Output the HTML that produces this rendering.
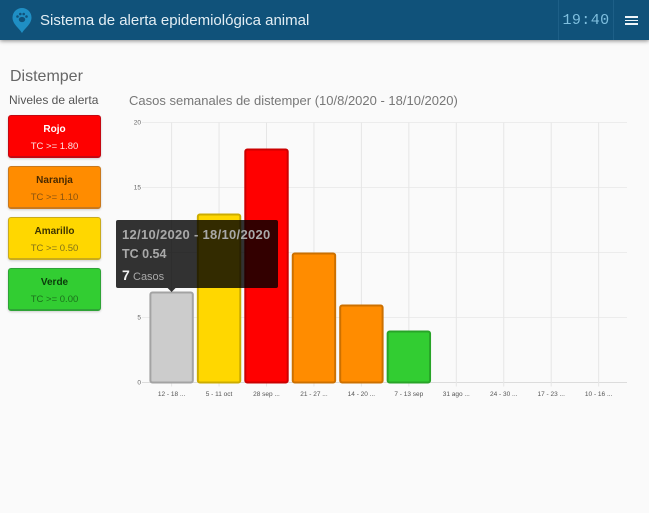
<!DOCTYPE html>
<html lang="es">
<head>
<meta charset="utf-8">
<title>Sistema de alerta epidemiológica animal</title>
<style>
html,body{margin:0;padding:0;width:649px;height:513px;overflow:hidden;background:#fafafa;font-family:"Liberation Sans",sans-serif;}
#header{position:absolute;left:0;top:0;width:649px;height:40px;background:#10527a;box-shadow:0 1px 4px rgba(0,0,0,.45);}
#app-title{position:absolute;left:40px;top:10.500px;font-size:15px;line-height:20px;color:#e3eef4;white-space:nowrap;}
#logo{position:absolute;left:12px;top:8px;}
#clock{position:absolute;left:558px;top:0;width:54px;height:40px;border-left:1px solid #1d5f87;border-right:1px solid #1d5f87;box-sizing:content-box;color:#7fbfdf;font-family:"Liberation Mono",monospace;font-size:15px;line-height:41px;text-align:center;letter-spacing:.4px;}
#menu{position:absolute;left:625px;top:16px;width:13px;height:9px;cursor:pointer;}
#menu i{display:block;height:1.700px;background:#eef5f9;margin-bottom:1.900px;}
#page-title{position:absolute;left:10px;top:67px;font-size:16px;line-height:20px;color:#666;white-space:nowrap;}
#levels-title{position:absolute;left:9px;top:93px;font-size:12px;line-height:14px;color:#555;white-space:nowrap;}
#chart-title{position:absolute;left:129px;top:93px;font-size:13px;line-height:16px;color:#777;white-space:nowrap;}
.level{position:absolute;left:8px;width:93px;height:43px;box-sizing:border-box;border-radius:3px;border:1px solid;border-bottom-width:2px;text-align:center;font-size:9.500px;cursor:pointer;box-shadow:0 1px 2px rgba(0,0,0,.18);}
.level b{display:block;margin-top:7.500px;line-height:12px;font-size:10px;}
.level span{display:block;margin-top:5.500px;line-height:12px;font-size:9.500px;}
#rojo{top:115px;background:#fe0000;border-color:#c40812;color:#fff;}
#rojo b{color:#fff}#rojo span{color:#fbe3e3}
#naranja{top:166px;background:#ff8c00;border-color:#c9791d;}
#naranja b{color:#4a2a00}#naranja span{color:#8a5410}
#amarillo{top:217px;background:#ffd700;border-color:#c9ab1c;}
#amarillo b{color:#3d3400}#amarillo span{color:#80711a}
#verde{top:268px;background:#32cd32;border-color:#2ea336;}
#verde b{color:#0b3b0b}#verde span{color:#1c701c}
#chart{position:absolute;left:0;top:0;}
</style>
</head>
<body>
<div id="header">
  <svg id="logo" width="20" height="25" viewBox="0 0 20 25">
    <path d="M10 25C7 20 .5 16 .5 9.5a9.5 9.5 0 0 1 19 0C19.500 16 13 20 10 25z" fill="#1f8fc4"/>
    <ellipse cx="10" cy="11.500" rx="3.200" ry="2.600" fill="#10527a"/>
    <circle cx="5.500" cy="8.500" r="1.300" fill="#10527a"/>
    <circle cx="8.300" cy="6" r="1.300" fill="#10527a"/>
    <circle cx="11.700" cy="6" r="1.300" fill="#10527a"/>
    <circle cx="14.500" cy="8.500" r="1.300" fill="#10527a"/>
  </svg>
  <div id="app-title">Sistema de alerta epidemiológica animal</div>
  <div id="clock">19:40</div>
  <div id="menu"><i></i><i></i><i></i></div>
</div>
<div id="page-title">Distemper</div>
<div id="levels-title">Niveles de alerta</div>
<div id="chart-title">Casos semanales de distemper (10/8/2020 - 18/10/2020)</div>
<div class="level" id="rojo"><b>Rojo</b><span>TC &gt;= 1.80</span></div>
<div class="level" id="naranja"><b>Naranja</b><span>TC &gt;= 1.10</span></div>
<div class="level" id="amarillo"><b>Amarillo</b><span>TC &gt;= 0.50</span></div>
<div class="level" id="verde"><b>Verde</b><span>TC &gt;= 0.00</span></div>
<svg id="chart" width="649" height="513"></svg>
<script>
const categories = ["12 - 18 ...", "5 - 11 oct", "28 sep ...", "21 - 27 ...", "14 - 20 ...", "7 - 13 sep", "31 ago ...", "24 - 30 ...", "17 - 23 ...", "10 - 16 ..."];
const cases = [7, 13, 18, 10, 6, 4, 0, 0, 0, 0];
const barLevels = ["none", "yellow", "red", "orange", "orange", "green", "none", "none", "none", "none"];
const yTicks = [0, 5, 10, 15, 20];
const yMax = 20;
const tooltipIndex = 0;
const tooltipLines = ["12/10/2020 - 18/10/2020", "TC 0.54"];
const tooltipUnit = "Casos";

const fills = {none: "#cccccc", yellow: "#ffd700", red: "#ff0000", orange: "#ff8c00", green: "#32cd32"};
const strokes = {none: "#a3a3a3", yellow: "#ccac00", red: "#cc0000", orange: "#cc7000", green: "#28a428"};

const plot = {left: 148, right: 627, top: 122.5, bottom: 382.5};
const step = 47.45;
function xPos(i) { return plot.left + 23.6 + i * step; }
function yPos(v) { return plot.bottom - (v / yMax) * (plot.bottom - plot.top); }

const svg = document.getElementById('chart');
const NS = 'http://www.w3.org/2000/svg';
function mk(tag, attrs, parent) {
  const el = document.createElementNS(NS, tag);
  for (const k in attrs) el.setAttribute(k, attrs[k]);
  (parent || svg).appendChild(el);
  return el;
}

yTicks.forEach(function (t) {
  const y = yPos(t);
  const line = mk('line', {x1: plot.left - 6, x2: plot.right, y1: y, y2: y, stroke: t === 0 ? '#dcdcdc' : '#ececec', 'stroke-width': 1});
  
  
  const label = mk('text', {x: 141, y: y + 2, 'text-anchor': 'end', 'font-size': 6.5, fill: '#666'});
  label.textContent = t;
  
  
});

categories.forEach(function (c, i) {
  const x = xPos(i);
  const line = mk('line', {x1: x, x2: x, y1: plot.top, y2: plot.bottom + 4, stroke: '#e6e6e6', 'stroke-width': 1});
  
  
  const label = mk('text', {x: x, y: 396, 'text-anchor': 'middle', 'font-size': 6.5, fill: '#555'});
  label.textContent = c;
  
  
});

cases.forEach(function (v, i) {
  if (v <= 0) return;
  const lvl = barLevels[i];
  const top = yPos(v) + 1;
  const bar = mk('rect', {x: xPos(i) - 21.2, y: top, width: 42.4, height: plot.bottom - top, rx: 2, fill: fills[lvl], stroke: strokes[lvl], 'stroke-width': 2});
  
  
});

const tipX = xPos(tooltipIndex);
const tipBottom = yPos(cases[tooltipIndex]) - 3.5;
const tip = mk('g', {});


mk('rect', {x: 116, y: tipBottom - 68, width: 162, height: 68, rx: 2, fill: 'rgba(0,0,0,.8)'}, tip);
mk('path', {d: 'M' + (tipX - 4) + ' ' + tipBottom + 'L' + tipX + ' ' + (tipBottom + 4) + 'L' + (tipX + 4) + ' ' + tipBottom + 'Z', fill: 'rgba(0,0,0,.8)'}, tip);
const t1 = mk('text', {x: 122, y: tipBottom - 49, 'font-size': 13, 'font-weight': 'bold', 'letter-spacing': 0.3, fill: '#a9a9a9'}, tip);
t1.textContent = tooltipLines[0];
const t2 = mk('text', {x: 122, y: tipBottom - 30, 'font-size': 12.5, 'font-weight': 'bold', fill: '#a9a9a9'}, tip);
t2.textContent = tooltipLines[1];
const t3 = mk('text', {x: 122, y: tipBottom - 8, 'font-size': 14, 'font-weight': 'bold', fill: '#f2f2f2'}, tip);
t3.textContent = cases[tooltipIndex];
const t4 = mk('text', {x: 133, y: tipBottom - 8, 'font-size': 11, fill: '#a9a9a9'}, tip);
t4.textContent = tooltipUnit;
</script>
</body>
</html>
